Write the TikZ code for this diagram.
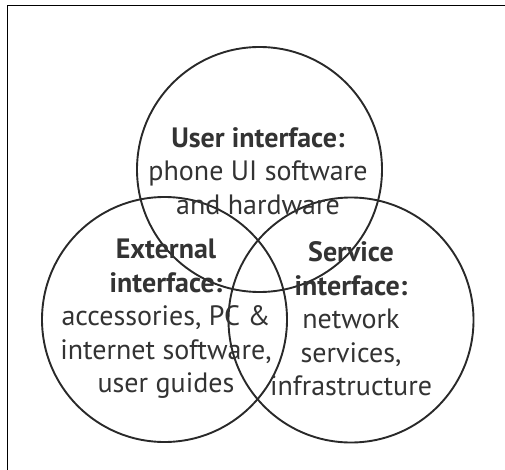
\documentclass[tikz,border=0pt]{standalone}
\usepackage{fontspec}
\setmainfont{PT Sans}
\usetikzlibrary{positioning}
\definecolor{ink}{HTML}{333333}
\tikzset{
  ring/.style={draw=ink!80!black,circle,line width=1.9pt,minimum size=245pt,inner sep=0pt},
  lbl/.style={align=center,text=ink,font=\fontsize{28}{33.5}\selectfont,inner sep=0pt}
}

\begin{document}
\begin{tikzpicture}[x=1pt,y=-1pt]
  \useasboundingbox (0,0) rectangle (505,470);
  \draw[line width=1.6pt] (7.5,470) -- (7.5,5.5) -- (505,5.5);
  \node[ring] (user) at (259.5,169.5) {};
  \node[ring] (ext) at (164.5,319.5) {};
  \node[ring] (serv) at (351,320) {};
  \node[lbl] (usertxt) at (258,171) {\textbf{User interface:}\\phone UI software\\and hardware};
  \node[lbl] (exttxt) at (166,319) {\textbf{External}\\\textbf{interface:}\\accessories, PC \&\\internet software,\\user guides};
  \node[lbl] (servtxt) at (351,319) {\textbf{Service}\\\textbf{interface:}\\network\\services,\\infrastructure};
\end{tikzpicture}
\end{document}
